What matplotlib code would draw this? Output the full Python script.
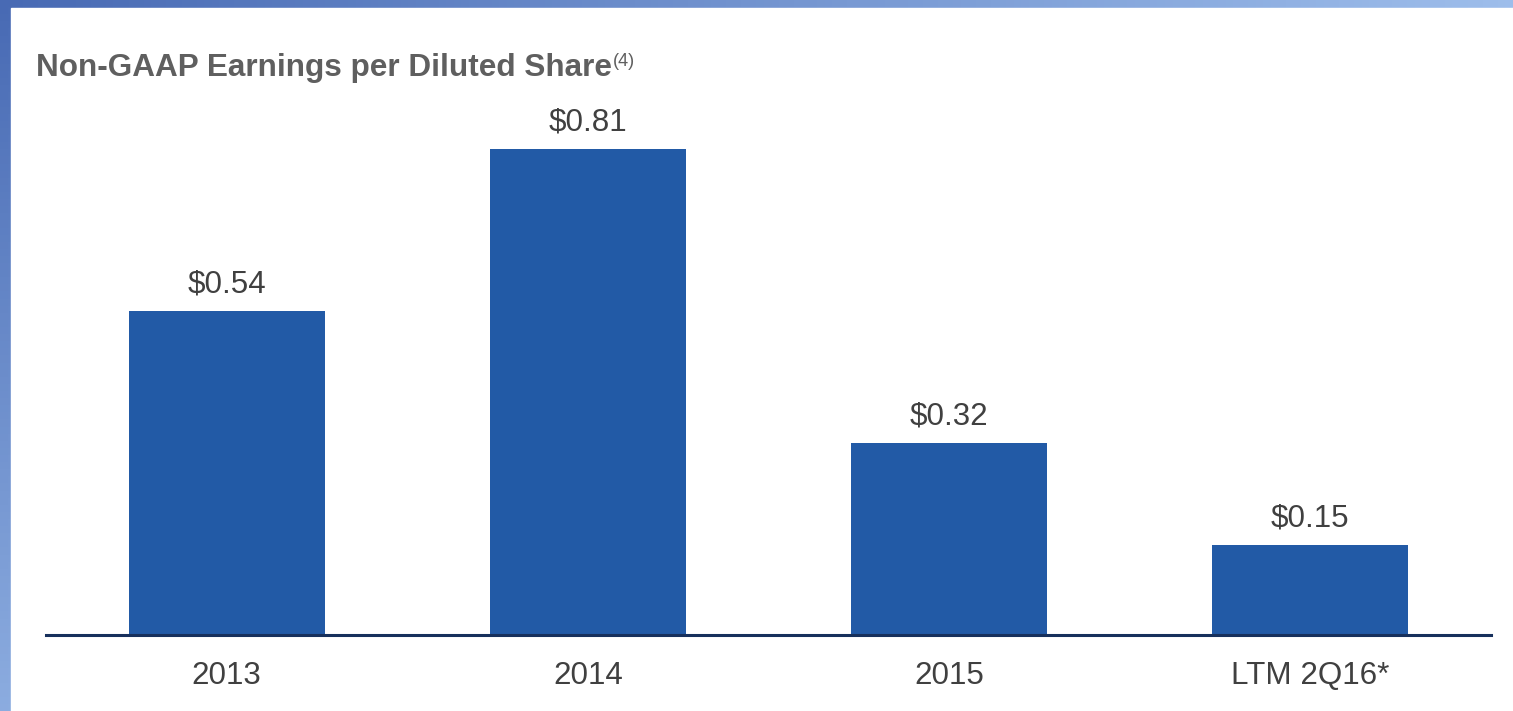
import matplotlib.pyplot as plt
import numpy as np

periods = ["2013", "2014", "2015", "LTM 2Q16*"]
eps = [0.54, 0.81, 0.32, 0.15]
eps_labels = ["$0.54", "$0.81", "$0.32", "$0.15"]

plt.rcParams['font.family'] = ['Liberation Sans', 'DejaVu Sans']

fig = plt.figure(figsize=(15.13, 7.11), dpi=100)

# gradient frame in the back
bg = fig.add_axes([0, 0, 1, 1], zorder=0)
gx, gy = np.meshgrid(np.linspace(0, 1, 200), np.linspace(0, 1, 100))
t = np.clip(0.95 * gx + 0.75 * gy, 0, 1)
c0 = np.array([0x48, 0x6a, 0xb4]) / 255
c1 = np.array([0xa2, 0xc2, 0xee]) / 255
img = c0[None, None, :] * (1 - t[..., None]) + c1[None, None, :] * t[..., None]
bg.imshow(img, extent=[0, 1, 0, 1], aspect='auto', origin='upper')
bg.add_patch(plt.Rectangle((11 / 1513, 0), 1, 1 - 8 / 711, color='white'))
bg.set_xlim(0, 1)
bg.set_ylim(0, 1)
bg.axis('off')

ax = fig.add_axes([46 / 1513, 76 / 711, (1491 - 46) / 1513, 600 / 711], zorder=1)
ax.patch.set_alpha(0)
x = np.arange(len(periods))
ax.bar(x, eps, width=0.543, color='#225aa6')
for xi, v, lab in zip(x, eps, eps_labels):
    ax.text(xi, v + 0.019, lab.replace('$', r'\$'), ha='center', va='bottom',
            fontsize=22.6, color='#404040')

ax.set_xlim(-0.5, 3.5)
ax.set_ylim(0, 1)
ax.set_xticks(x)
ax.set_xticklabels(periods, fontsize=22.6, color='#404040')
ax.tick_params(axis='x', length=0, pad=19)
ax.set_yticks([])
for s in ['top', 'right', 'left']:
    ax.spines[s].set_visible(False)
ax.spines['bottom'].set_color('#17305c')
ax.spines['bottom'].set_linewidth(2.2)

title = fig.text(36 / 1513, 1 - 68 / 711, "Non-GAAP Earnings per Diluted Share",
                 fontsize=22.7, fontweight='bold', color='#5f5f5f', va='center')
fig.canvas.draw()
bb = title.get_window_extent().transformed(fig.transFigure.inverted())
fig.text(bb.x1 + 1 / 1513, 1 - 61 / 711, "(4)", fontsize=13, color='#5f5f5f', va='center')

fig.savefig('out.png', dpi=100)
